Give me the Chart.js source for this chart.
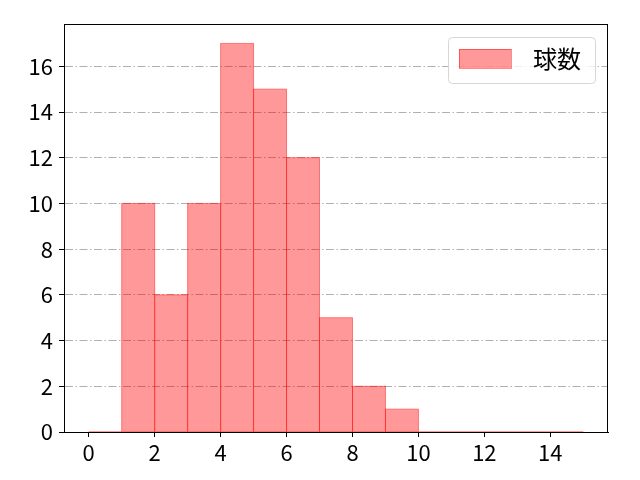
<!DOCTYPE html>
<html>
<head>
<meta charset="utf-8">
<script src="https://cdn.jsdelivr.net/npm/chart.js@4/dist/chart.umd.min.js"></script>
<style>
  html, body { margin: 0; padding: 0; background: #fff; }
  #wrap { width: 640px; height: 480px; }
</style>
</head>
<body>
<div id="wrap"><canvas id="hist-canvas"></canvas></div>
<script>
// histogram bins (left edges) and counts
var binStarts = [0, 1, 2, 3, 4, 5, 6, 7, 8, 9, 10, 11, 12, 13, 14]
var counts = [0, 10, 6, 10, 17, 15, 12, 5, 2, 1, 0, 0, 0, 0, 0]
var xTicks = [0, 2, 4, 6, 8, 10, 12, 14]
var yTicks = [0, 2, 4, 6, 8, 10, 12, 14, 16]
var seriesLabel = '球数'

var font = '"Noto Sans CJK JP", "DejaVu Sans", sans-serif'
var fill = 'rgba(255,0,0,0.4)'
var edge = 'rgba(255,0,0,0.45)'

// thin shared edges on top of the bars (matplotlib style)
var barEdges = {
  id: 'barEdges',
  afterDatasetsDraw: function (chart) {
    var c = chart.ctx
    var a = chart.chartArea
    c.save()
    c.beginPath()
    c.rect(a.left, a.top, a.right - a.left, a.bottom - a.top)
    c.clip()
    c.strokeStyle = edge
    c.lineWidth = 1
    chart.getDatasetMeta(0).data.forEach(function (bar) {
      var l = bar.x - bar.width / 2
      var r = bar.x + bar.width / 2
      c.strokeRect(l, bar.y, r - l, bar.base - bar.y)
    })
    c.restore()
  }
}

// legend box in the upper right of the plot area
var legendBox = {
  id: 'legendBox',
  afterDraw: function (chart) {
    var ctx = chart.ctx, a = chart.chartArea
    var w = 147, h = 46
    var x = a.right - 13 - w, y = a.top + 13
    ctx.save()
    ctx.fillStyle = 'rgba(255,255,255,0.8)'
    ctx.strokeStyle = '#d6d6d6'
    ctx.lineWidth = 1
    ctx.beginPath()
    ctx.roundRect(x + 0.5, y + 0.5, w, h, 4)
    ctx.fill()
    ctx.stroke()
    ctx.fillStyle = fill
    ctx.fillRect(x + 11, y + 12, 52, 19)
    ctx.strokeStyle = edge
    ctx.strokeRect(x + 11.5, y + 12.5, 52, 19)
    ctx.fillStyle = '#000'
    ctx.font = '24px ' + font
    ctx.textBaseline = 'middle'
    ctx.fillText(seriesLabel, x + 85, y + 22)
    ctx.restore()
  }
}

var ctx = document.getElementById('hist-canvas').getContext('2d')
var chart = new Chart(ctx, {
  type: 'bar',
  data: {
    datasets: [{
      label: seriesLabel,
      data: binStarts.map(function (b, i) { return { x: b + 0.5, y: counts[i] } }),
      backgroundColor: fill,
      borderWidth: 0,
      inflateAmount: 0,
      barPercentage: 1.0,
      categoryPercentage: 1.0,
      grouped: false
    }]
  },
  options: {
    responsive: true,
    maintainAspectRatio: false,
    animation: false,
    events: [],
    layout: { padding: { top: 24, right: 32, left: 0, bottom: 0 } },
    plugins: {
      legend: { display: false },
      tooltip: { enabled: false }
    },
    scales: {
      x: {
        type: 'linear',
        offset: false,
        min: -0.75,
        max: 15.75,
        afterBuildTicks: function (axis) {
          axis.ticks = xTicks.map(function (v) { return { value: v } })
        },
        afterFit: function (axis) { axis.height = 48 },
        ticks: { color: '#000', font: { family: font, size: 22 }, padding: 2, maxRotation: 0 },
        grid: { offset: false, drawOnChartArea: false, color: '#000', tickLength: 5, tickWidth: 1 },
        border: { display: true, color: '#000', width: 1 }
      },
      y: {
        z: 1,
        min: 0,
        max: 17.85,
        afterBuildTicks: function (axis) {
          axis.ticks = yTicks.map(function (v) { return { value: v } })
        },
        afterFit: function (axis) { axis.width = 64 },
        ticks: { color: '#000', font: { family: font, size: 22 }, padding: 6 },
        grid: {
          color: '#b0b0b0',
          lineWidth: 1,
          tickColor: '#000',
          tickBorderDash: [],
          tickLength: 5
        },
        border: { display: true, color: '#000', width: 1, dash: [8, 2.5, 1.5, 2.5] }
      }
    }
  },
  plugins: [barEdges, legendBox, {
    id: 'frame',
    afterDraw: function (chart) {
      var c = chart.ctx, a = chart.chartArea
      c.save()
      c.strokeStyle = '#000'
      c.lineWidth = 1
      c.strokeRect(a.left + 0.5, a.top + 0.5, a.right - a.left - 1, a.bottom - a.top)
      c.restore()
    }
  }]
})
</script>
</body>
</html>
